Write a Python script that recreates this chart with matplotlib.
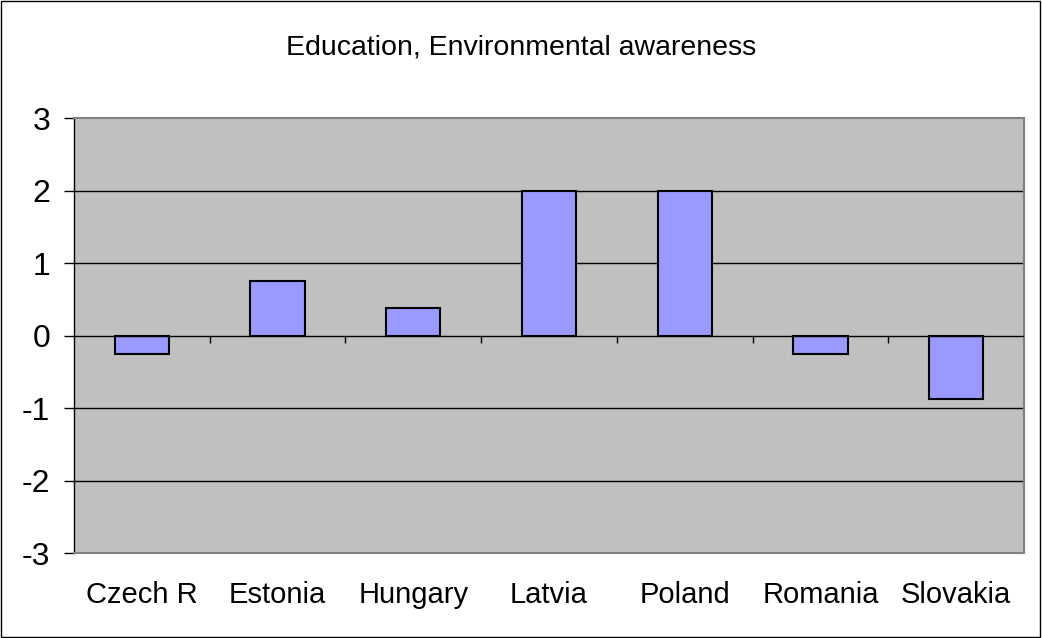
import numpy as np
import matplotlib.pyplot as plt

# data
countries = ["Czech R", "Estonia", "Hungary", "Latvia", "Poland", "Romania", "Slovakia"]
values = [-0.25, 0.75, 0.375, 2.0, 2.0, -0.25, -0.875]
yticks = [-3, -2, -1, 0, 1, 2, 3]

plt.rcParams['font.family'] = ['Liberation Sans', 'DejaVu Sans']
plt.rcParams['axes.unicode_minus'] = False

fig = plt.figure(figsize=(10.42, 6.38), dpi=100)
ax = fig.add_axes([0.071, 0.1332, 0.9117, 0.6818])
ax.set_facecolor('#C0C0C0')

x = np.arange(len(countries))
ax.bar(x, values, width=0.4, color='#9999FF', edgecolor='black', linewidth=1.5, zorder=3)

ax.set_xlim(-0.5, len(countries) - 0.5)
ax.set_ylim(-3, 3)
ax.set_yticks(yticks, [str(v) for v in yticks])
ax.tick_params(axis='y', direction='out', length=7, width=1, labelsize=23, pad=10)
ax.set_xticks(x, countries)
ax.tick_params(axis='x', length=0, labelsize=21, pad=20)

# gridlines
for v in [-2, -1, 1, 2]:
    ax.axhline(v, color='black', linewidth=1, zorder=1)
ax.axhline(0, color='black', linewidth=1, zorder=4)

# category boundary ticks on the zero line
bounds = np.arange(0.5, len(countries) - 0.5, 1.0)
ax.vlines(bounds, 0, -0.1, color='black', linewidth=1, zorder=4)

for s in ['top', 'right', 'bottom']:
    ax.spines[s].set_color('#808080')
    ax.spines[s].set_linewidth(1.5)
ax.spines['left'].set_color('black')
ax.spines['left'].set_linewidth(1)

fig.text(0.5, 0.925, "Education, Environmental awareness", ha='center', va='center', fontsize=20.5)

# outer border
fig.patches.append(plt.Rectangle((0.001, 0.001), 0.997, 0.997, transform=fig.transFigure,
                                 fill=False, edgecolor='black', linewidth=1))

fig.savefig("out.png", dpi=100)
